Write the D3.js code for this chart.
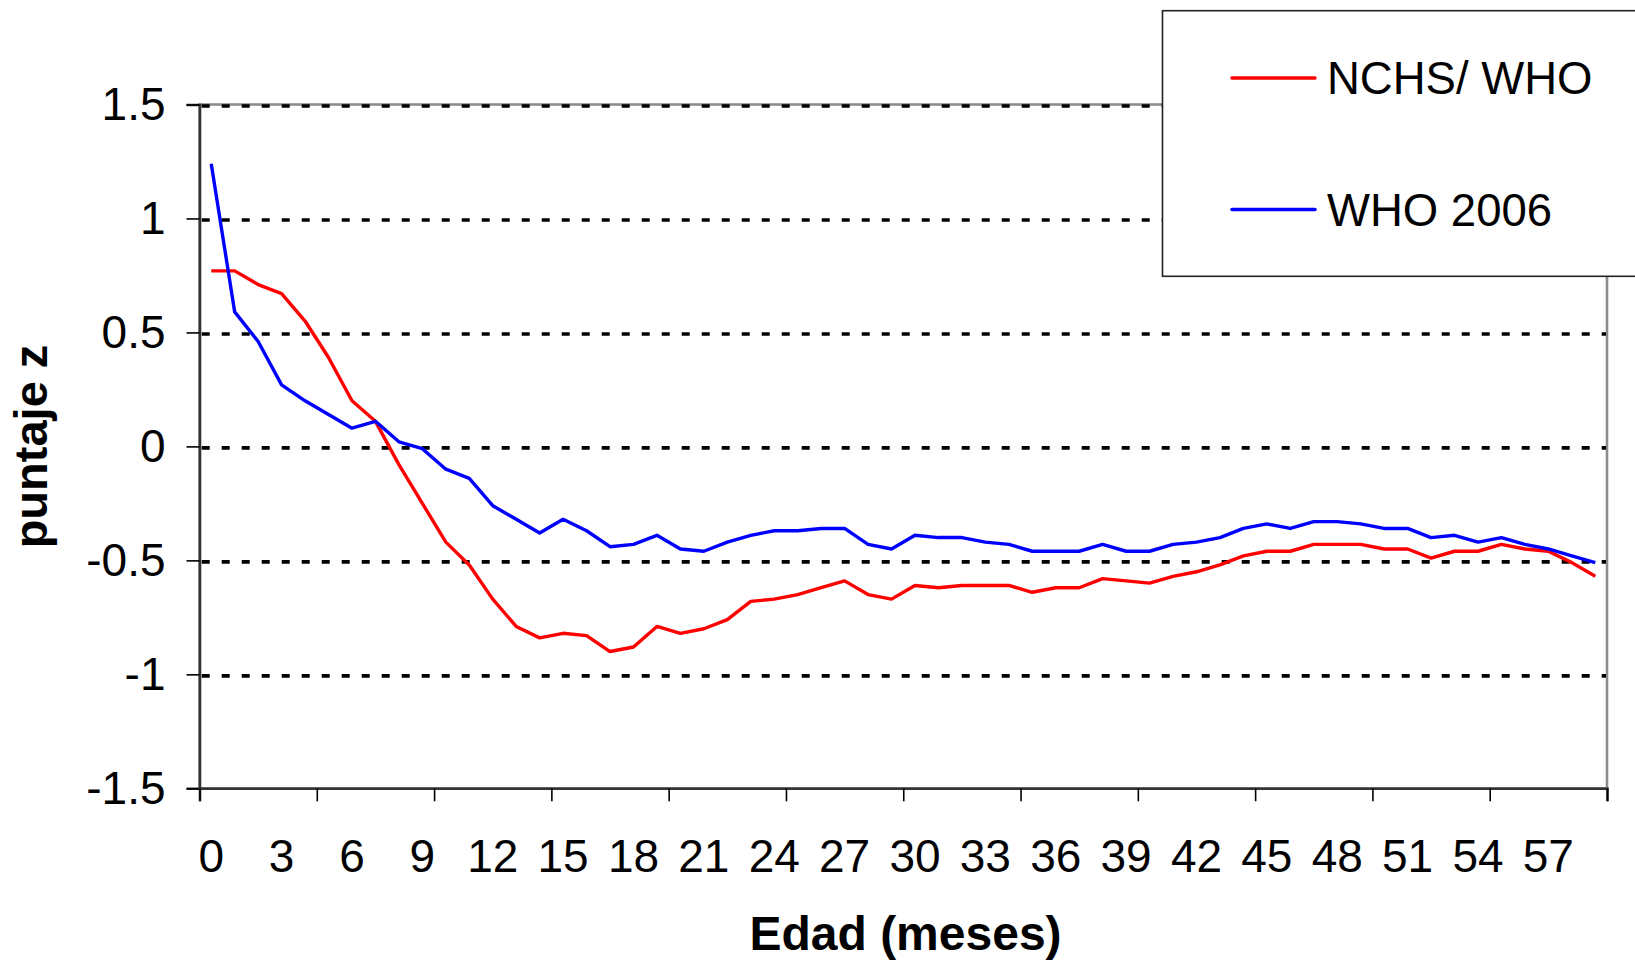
<!DOCTYPE html>
<html>
<head>
<meta charset="utf-8">
<script src="https://cdn.jsdelivr.net/npm/d3@7"></script>
<style>
  html, body { margin: 0; padding: 0; background: #fff; }
  svg { display: block; }
  text { font-family: "Liberation Sans", Arial, sans-serif; fill: #000; }
</style>
</head>
<body>
<svg id="chart" width="1635" height="961"></svg>
<script>
// ---- data ----
const months = [0,1,2,3,4,5,6,7,8,9,10,11,12,13,14,15,16,17,18,19,20,21,22,23,24,25,26,27,28,29,
                30,31,32,33,34,35,36,37,38,39,40,41,42,43,44,45,46,47,48,49,50,51,52,53,54,55,56,57,58,59];
const nchsWho = [0.77,0.77,0.71,0.67,0.55,0.39,0.20,0.11,-0.08,-0.25,-0.42,-0.52,-0.67,-0.79,-0.84,-0.82,-0.83,-0.90,-0.88,-0.79,
                 -0.82,-0.80,-0.76,-0.68,-0.67,-0.65,-0.62,-0.59,-0.65,-0.67,-0.61,-0.62,-0.61,-0.61,-0.61,-0.64,-0.62,-0.62,-0.58,-0.59,
                 -0.60,-0.57,-0.55,-0.52,-0.48,-0.46,-0.46,-0.43,-0.43,-0.43,-0.45,-0.45,-0.49,-0.46,-0.46,-0.43,-0.45,-0.46,-0.51,-0.57];
const who2006 = [1.24,0.59,0.46,0.27,0.20,0.14,0.08,0.11,0.02,-0.01,-0.10,-0.14,-0.26,-0.32,-0.38,-0.32,-0.37,-0.44,-0.43,-0.39,
                 -0.45,-0.46,-0.42,-0.39,-0.37,-0.37,-0.36,-0.36,-0.43,-0.45,-0.39,-0.40,-0.40,-0.42,-0.43,-0.46,-0.46,-0.46,-0.43,-0.46,
                 -0.46,-0.43,-0.42,-0.40,-0.36,-0.34,-0.36,-0.33,-0.33,-0.34,-0.36,-0.36,-0.40,-0.39,-0.42,-0.40,-0.43,-0.45,-0.48,-0.51];
const xLabelMonths = [0,3,6,9,12,15,18,21,24,27,30,33,36,39,42,45,48,51,54,57];
const xTickBoundaries = [0,5,10,15,20,25,30,35,40,45,50,55,60];
const yTicks = [-1.5,-1,-0.5,0,0.5,1,1.5];
const seriesNames = ["NCHS/ WHO", "WHO 2006"];
const seriesColors = ["#FF0000", "#0000FF"];

// ---- layout ----
const L = 199.5, R = 1607, T = 104.5, B = 788.3;
const svg = d3.select("#chart");

const x = d3.scaleBand().domain(months).range([L, R]).padding(0);
const xb = d3.scaleLinear().domain([0, 60]).range([L, R]);
const y = d3.scaleLinear().domain([-1.5, 1.5]).range([B, T]);
const cx = m => x(m) + x.bandwidth() / 2;

// plot area border (gray)
svg.append("rect")
  .attr("x", L).attr("y", T).attr("width", R - L).attr("height", B - T)
  .attr("fill", "none").attr("stroke", "#8c8c8c").attr("stroke-width", 2.6);

// dotted gridlines
svg.append("g").selectAll("line")
  .data(yTicks.filter(v => v > -1.5))
  .join("line")
  .attr("x1", L + 2.2).attr("x2", R - 1)
  .attr("y1", d => y(d) + 1.5).attr("y2", d => y(d) + 1.5)
  .attr("stroke", "#000").attr("stroke-width", 3.6)
  .attr("stroke-dasharray", "8,12");

// y axis
const yAxis = svg.append("g").attr("transform", `translate(${L},0)`)
  .call(d3.axisLeft(y).tickValues(yTicks).tickSize(13).tickPadding(21)
        .tickFormat(d => String(d)));
yAxis.select(".domain").attr("stroke", "#333").attr("stroke-width", 2.6);
yAxis.selectAll(".tick line").attr("stroke", "#000").attr("stroke-width", 1.6);
yAxis.selectAll("text").style("font-size", "46px").attr("fill", "#000");

// x axis (tick marks at category boundaries)
const xAxisTicks = svg.append("g").attr("transform", `translate(0,${B})`)
  .call(d3.axisBottom(xb).tickValues(xTickBoundaries).tickSize(13).tickFormat(""));
xAxisTicks.select(".domain").attr("stroke", "#333").attr("stroke-width", 2.6);
xAxisTicks.selectAll(".tick line").attr("stroke", "#000").attr("stroke-width", 1.6);

// x axis labels (category centers)
const xAxisLabels = svg.append("g").attr("transform", `translate(0,${B})`)
  .call(d3.axisBottom(x).tickValues(xLabelMonths).tickSize(0).tickPadding(51));
xAxisLabels.select(".domain").remove();
xAxisLabels.selectAll("text").style("font-size", "46px").attr("fill", "#000");

// lines
const line = d3.line().x((d, i) => cx(months[i])).y(d => y(d));
[nchsWho, who2006].forEach((s, k) => {
  svg.append("path").datum(s)
    .attr("d", line)
    .attr("fill", "none")
    .attr("stroke", seriesColors[k])
    .attr("stroke-width", 3.4)
    .attr("stroke-linejoin", "round");
});

// axis titles
svg.append("text")
  .attr("x", 905.5).attr("y", 950)
  .attr("text-anchor", "middle")
  .style("font-size", "48px").style("font-weight", "bold")
  .text("Edad (meses)");

svg.append("text")
  .attr("transform", "translate(46.5,446.5) rotate(-90)")
  .attr("text-anchor", "middle")
  .style("font-size", "47px").style("font-weight", "bold")
  .text("puntaje z");

// legend
const lg = svg.append("g");
lg.append("rect")
  .attr("x", 1162.5).attr("y", 10.7).attr("width", 520).attr("height", 265.6)
  .attr("fill", "#fff").attr("stroke", "#222").attr("stroke-width", 1.6);
const legendY = [78, 209.5];
seriesNames.forEach((name, k) => {
  lg.append("line")
    .attr("x1", 1232).attr("x2", 1315)
    .attr("y1", legendY[k]).attr("y2", legendY[k])
    .attr("stroke", seriesColors[k]).attr("stroke-width", 3.5)
    .attr("stroke-linecap", "round");
  lg.append("text")
    .attr("x", 1327).attr("y", legendY[k] + 16.3)
    .style("font-size", "45.5px")
    .text(name);
});
</script>
</body>
</html>
